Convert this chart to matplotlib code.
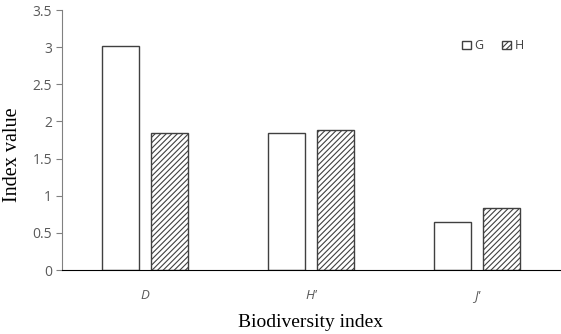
import matplotlib
matplotlib.use("Agg")
import matplotlib.pyplot as plt
import numpy as np

categories = ["D", "H'", "J'"]
series_names = ["G", "H"]
g_values = [3.02, 1.84, 0.65]
h_values = [1.84, 1.89, 0.83]
y_ticks = [0, 0.5, 1, 1.5, 2, 2.5, 3, 3.5]
y_tick_labels = ["0", "0.5", "1", "1.5", "2", "2.5", "3", "3.5"]

plt.rcParams['hatch.linewidth'] = 0.8
plt.rcParams['hatch.color'] = '#404040'

fig = plt.figure(figsize=(5.61, 3.34), dpi=100)
ax = fig.add_axes([62/561, 1-270/334, 498/561, 260/334])

x = np.arange(len(categories))
w = 0.223
off = 0.145
ax.bar(x - off, g_values, width=w, color='white', edgecolor='#404040', linewidth=1.0, label=series_names[0])
ax.bar(x + off, h_values, width=w, color='white', edgecolor='#404040', linewidth=1.0, hatch='//////', label=series_names[1])

ax.set_xlim(-0.5, 2.5)
ax.set_ylim(0, 3.5)
ax.set_yticks(y_ticks)
ax.set_yticklabels(y_tick_labels, fontsize=10, color='#595959', family='Open Sans')
ax.set_xticks(x)
ax.set_xticklabels(categories, fontsize=9.5, color='#595959', style='italic', family='Open Sans')
ax.tick_params(axis='x', length=0, pad=14)
ax.tick_params(axis='y', length=4, direction='out', color='#808080', pad=3)

for s in ['top', 'right']:
    ax.spines[s].set_visible(False)
ax.spines['left'].set_color('#808080')
ax.spines['bottom'].set_color('black')

ax.set_ylabel('Index value', family='Liberation Serif', fontsize=14.5)
ax.set_xlabel('Biodiversity index', family='Liberation Serif', fontsize=14)
ax.yaxis.set_label_coords(-0.080, 0.442)
ax.xaxis.set_label_coords(0.5, -0.17)

leg = ax.legend(loc='upper right', bbox_to_anchor=(0.95, 0.93), ncol=2, frameon=False,
                fontsize=9, handlelength=0.7, handleheight=0.7, handletextpad=0.3,
                columnspacing=1.5)
for t in leg.get_texts():
    t.set_color('#404040')
    t.set_family('Open Sans')

fig.savefig('out.png', dpi=100)
